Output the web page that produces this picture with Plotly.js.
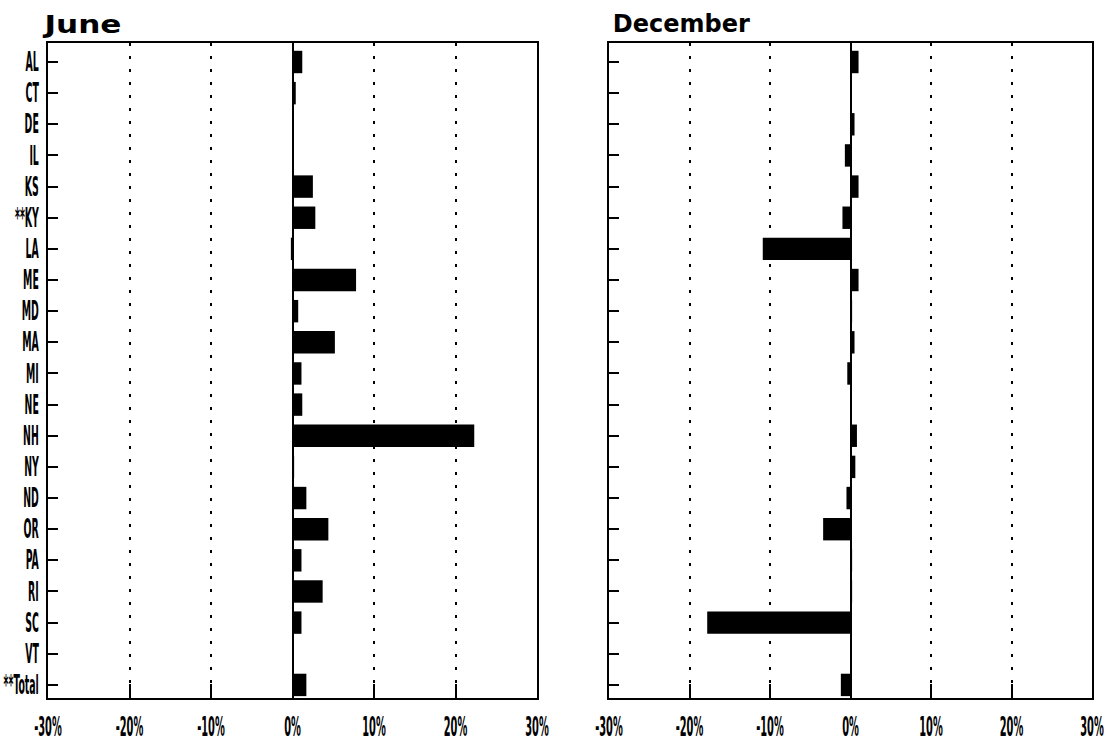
<!DOCTYPE html>
<html>
<head>
<meta charset="utf-8">
<script src="https://cdn.plot.ly/plotly-3.0.1.min.js"></script>
<style>
html,body{margin:0;padding:0;background:#fff;}
#chart{width:1111px;height:745px;}
</style>
</head>
<body>
<div id="chart"></div>
<script>
// ---- data ----
const states = ["AL","CT","DE","IL","KS","**KY","LA","ME","MD","MA","MI","NE","NH","NY","ND","OR","PA","RI","SC","VT","**Total"];
const juneValues = [1.2, 0.4, 0.1, 0.1, 2.5, 2.8, -0.2, 7.8, 0.7, 5.2, 1.1, 1.2, 22.3, 0.2, 1.7, 4.4, 1.1, 3.7, 1.1, 0.1, 1.7];
const decemberValues = [1.0, 0.1, 0.5, -0.7, 1.0, -1.0, -10.9, 1.0, 0.2, 0.5, -0.4, 0.1, 0.8, 0.6, -0.5, -3.4, 0.2, 0.2, -17.8, 0.1, -1.2];
const xTickValues = [-30, -20, -10, 0, 10, 20, 30];
const xTickLabels = ["-30%", "-20%", "-10%", "0%", "10%", "20%", "30%"];
const panelTitles = ["June", "December"];

const W = 1111, H = 745;
const condensed = "DejaVu Sans Condensed, Liberation Sans Narrow, DejaVu Sans, sans-serif";

function xAxis(domain, anchor) {
  return {
    domain: domain, anchor: anchor,
    range: [-30, 30], fixedrange: true,
    tickmode: "array", tickvals: xTickValues, ticktext: xTickLabels,
    ticks: "inside", ticklen: 14, tickwidth: 2, tickcolor: "#000",
    showline: true, linecolor: "#000", linewidth: 2, mirror: true,
    showgrid: true, gridcolor: "#000", gridwidth: 2, griddash: "3px,10px",
    zeroline: true, zerolinecolor: "#000", zerolinewidth: 2,
    tickfont: {family: condensed, size: 26, color: "#000", weight: "bold"},
    ticklabelstandoff: 5, ticklabeloverflow: "allow"
  };
}
function yAxis(anchor, labels) {
  return {
    domain: [(H - 698) / H, (H - 43) / H], anchor: anchor,
    type: "category", categoryorder: "array", categoryarray: states,
    range: [20.42, -0.61], fixedrange: true,
    ticks: "inside", ticklen: 10, tickwidth: 2, tickcolor: "#000",
    showline: true, linecolor: "#000", linewidth: 2, mirror: true,
    showgrid: false, zeroline: false,
    showticklabels: labels,
    tickfont: {family: condensed, size: 26, color: "#000", weight: "bold"},
    ticklabelstandoff: 2, ticklabeloverflow: "allow"
  };
}

const traces = [
  {type: "bar", orientation: "h", x: juneValues, y: states, xaxis: "x", yaxis: "y",
   marker: {color: "#000", line: {width: 0}}, hoverinfo: "skip"},
  {type: "bar", orientation: "h", x: decemberValues, y: states, xaxis: "x2", yaxis: "y2",
   marker: {color: "#000", line: {width: 0}}, hoverinfo: "skip"}
];

const titleFont = {family: "DejaVu Sans, sans-serif", size: 25, color: "#000", weight: "bold"};
const layout = {
  width: W, height: H,
  margin: {l: 0, r: 0, t: 0, b: 0},
  paper_bgcolor: "#fff", plot_bgcolor: "#fff",
  showlegend: false, bargap: 0.28,
  xaxis: xAxis([48 / W, 537 / W], "y"),
  yaxis: yAxis("x", true),
  xaxis2: xAxis([609 / W, 1092 / W], "y2"),
  yaxis2: yAxis("x2", false),
  annotations: [
    {text: panelTitles[0], xref: "paper", yref: "paper", x: 48 / W, y: 1 - 25 / H,
     xanchor: "left", yanchor: "middle", showarrow: false, font: titleFont},
    {text: panelTitles[1], xref: "paper", yref: "paper", x: 608 / W, y: 1 - 23 / H,
     xanchor: "left", yanchor: "middle", showarrow: false, font: titleFont}
  ]
};

Plotly.newPlot("chart", traces, layout, {staticPlot: true, displayModeBar: false}).then(function () {
  function squeeze(selector, factor) {
    document.querySelectorAll(selector).forEach(function (t) {
      const w = t.getComputedTextLength();
      t.setAttribute("textLength", (w * factor).toFixed(1));
      t.setAttribute("lengthAdjust", "spacingAndGlyphs");
    });
  }
  squeeze(".ytick text", 0.4);
  squeeze(".xtick text", 0.42);
  squeeze(".x2tick text", 0.42);
  const titleWidths = [77, 137];
  document.querySelectorAll(".annotation-text").forEach(function (t, i) {
    if (titleWidths[i]) {
      t.setAttribute("textLength", titleWidths[i]);
      t.setAttribute("lengthAdjust", "spacingAndGlyphs");
    }
  });
});
</script>
</body>
</html>
